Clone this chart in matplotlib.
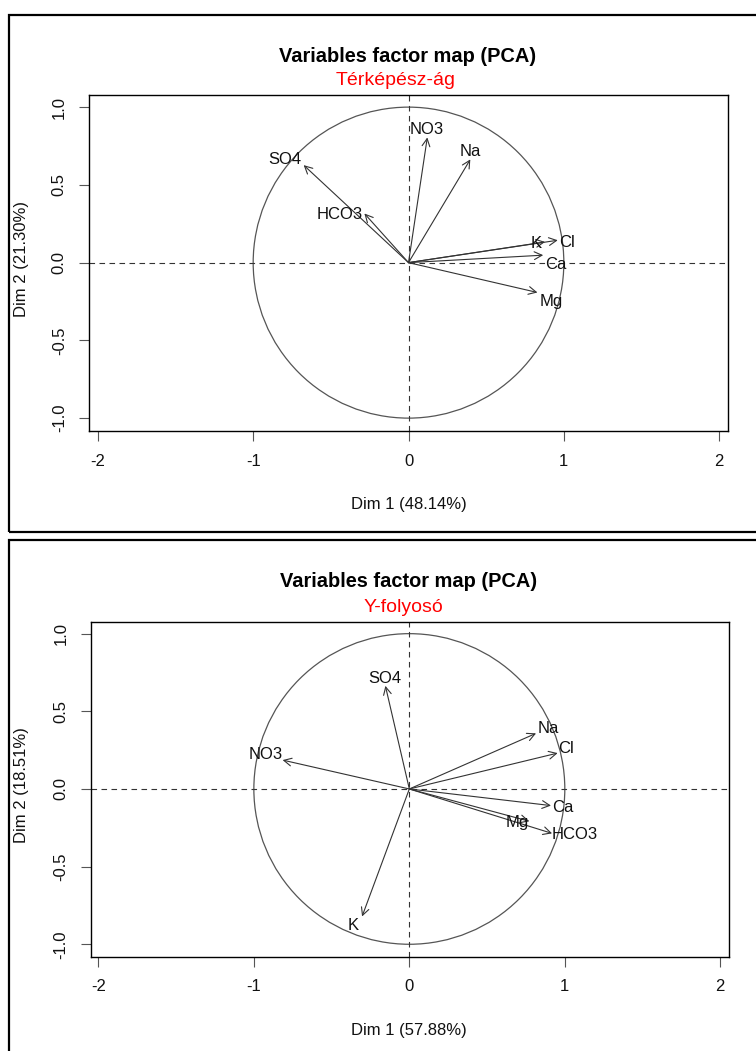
import matplotlib
matplotlib.use("Agg")
import matplotlib.pyplot as plt
from matplotlib.patches import Circle, Rectangle, FancyArrowPatch

plt.rcParams['font.family'] = ['Liberation Sans', 'DejaVu Sans']

# ---------------- data ----------------
main_title = "Variables factor map (PCA)"

top_subtitle = "Térképész-ág"
top_xlabel = "Dim 1 (48.14%)"
top_ylabel = "Dim 2 (21.30%)"
top_vars = ["NO3", "Na", "SO4", "HCO3", "K", "Cl", "Ca", "Mg"]
top_dim1 = [0.121, 0.398, -0.675, -0.284, 0.879, 0.961, 0.867, 0.830]
top_dim2 = [0.805, 0.664, 0.627, 0.316, 0.133, 0.144, 0.048, -0.192]

bot_subtitle = "Y-folyosó"
bot_xlabel = "Dim 1 (57.88%)"
bot_ylabel = "Dim 2 (18.51%)"
bot_vars = ["SO4", "NO3", "Na", "Cl", "Ca", "HCO3", "Mg", "K"]
bot_dim1 = [-0.154, -0.815, 0.815, 0.954, 0.911, 0.918, 0.772, -0.304]
bot_dim2 = [0.664, 0.186, 0.358, 0.231, -0.107, -0.286, -0.208, -0.821]

x_ticks = [-2, -1, 0, 1, 2]
x_ticklabels = ["-2", "-1", "0", "1", "2"]
y_ticks = [-1.0, -0.5, 0.0, 0.5, 1.0]
y_ticklabels = ["-1.0", "-0.5", "0.0", "0.5", "1.0"]

# label offsets in pixels (style only)
top_offsets = [(-1, 8), (0, 8), (-19, 6), (-25, -1), (-9, -2), (9, -2), (13, -9), (14, -9)]
bot_offsets = [(-1, 7), (-17, 6), (12, 5), (8, 5), (12, -2), (23, -1), (-12, -1), (-9, -9)]

W, H = 756, 1051
fig = plt.figure(figsize=(W / 100, H / 100), dpi=100)
fig.patch.set_facecolor("white")


def fx(px):
    return px / W


def fy(py):
    return 1 - py / H


def panel(box, xlim, ylim, names, d1, d2, offsets, title_pos, sub_pos, subtitle,
          xlab_pos, xlabel, ylab_pos, ylabel):
    l, r, t, b = box
    ax = fig.add_axes([fx(l), fy(b), (r - l) / W, (b - t) / H])
    ax.set_xlim(*xlim)
    ax.set_ylim(*ylim)
    for s in ax.spines.values():
        s.set_linewidth(1.0)
        s.set_color("black")
    ax.set_xticks(x_ticks)
    ax.set_xticklabels(x_ticklabels)
    ax.set_yticks(y_ticks)
    ax.set_yticklabels(y_ticklabels, rotation=90, va="center")
    ax.tick_params(direction="out", length=7, width=0.8, color="#555555",
                   labelsize=12, pad=9, labelcolor="#111111")
    # reference lines
    ax.axhline(0, color="#333333", lw=0.8, linestyle=(0, (5, 4)))
    ax.axvline(0, color="#333333", lw=0.8, linestyle=(0, (5, 4)))
    ax.add_patch(Circle((0, 0), 1.0, fill=False, ec="#555555", lw=0.9))
    for name, x, y, (dx, dy) in zip(names, d1, d2, offsets):
        arr = FancyArrowPatch((0, 0), (x, y),
                              arrowstyle="->,head_length=0.55,head_width=0.28",
                              mutation_scale=10, color="#333333", lw=0.8,
                              shrinkA=0, shrinkB=0)
        ax.add_patch(arr)
        ax.annotate(name, xy=(x, y), xytext=(dx, dy), textcoords="offset pixels",
                    ha="center", va="center", fontsize=12, color="#111111")
    fig.text(fx(title_pos[0]), fy(title_pos[1]), main_title, ha="center",
             va="baseline", fontsize=14.4, fontweight="bold")
    fig.text(fx(sub_pos[0]), fy(sub_pos[1]), subtitle, ha="center",
             va="baseline", fontsize=14, color="red")
    fig.text(fx(xlab_pos[0]), fy(xlab_pos[1]), xlabel, ha="center",
             va="baseline", fontsize=12, color="#111111")
    fig.text(fx(ylab_pos[0]), fy(ylab_pos[1]), ylabel, ha="center",
             va="center", rotation=90, fontsize=12, color="#111111")
    return ax


panel((89, 727.7, 95, 431.5), (-2.057, 2.055), (-1.086, 1.078),
      top_vars, top_dim1, top_dim2, top_offsets,
      (407.7, 61.7), (396, 85), top_subtitle,
      (408.5, 509), top_xlabel, (22, 259), top_ylabel)

panel((90.6, 729, 621.7, 957), (-2.05, 2.056), (-1.082, 1.077),
      bot_vars, bot_dim1, bot_dim2, bot_offsets,
      (408.5, 587.3), (403, 611.7), bot_subtitle,
      (409.3, 1035), bot_xlabel, (22, 785), bot_ylabel)

# outer window frames
fig.add_artist(Rectangle((fx(9), fy(532)), fx(800) - fx(9), fy(15) - fy(532),
                         transform=fig.transFigure, fill=False, ec="black", lw=1.6))
fig.add_artist(Rectangle((fx(9), fy(1100)), fx(800) - fx(9), fy(540) - fy(1100),
                         transform=fig.transFigure, fill=False, ec="black", lw=1.6))

fig.savefig("out.png", dpi=100)
